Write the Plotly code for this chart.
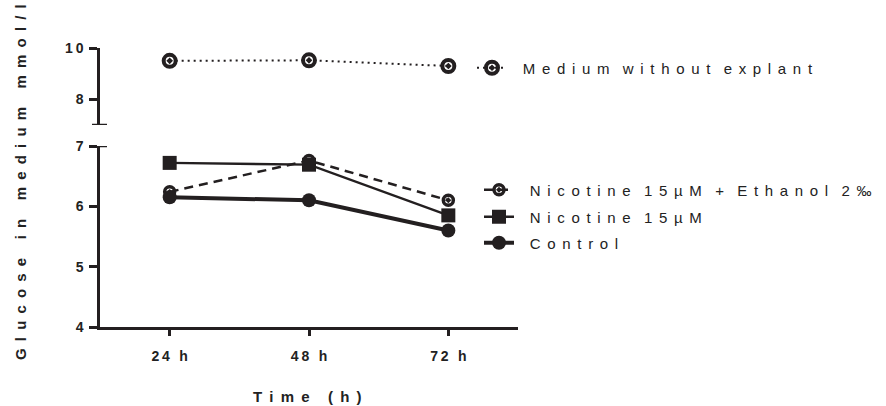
import plotly.graph_objects as go

# ---- data ----
times = ["24 h", "48 h", "72 h"]
medium = [9.50, 9.52, 9.30]
nic_eth = [6.24, 6.76, 6.10]
nicotine = [6.72, 6.69, 5.85]
control = [6.15, 6.10, 5.60]

names = {
    "medium": "Medium without explant",
    "nic_eth": "Nicotine 15µM + Ethanol 2‰",
    "nicotine": "Nicotine 15µM",
    "control": "Control",
}
lower_ticks = [4, 5, 6, 7]
upper_ticks = [8, 10]

INK = "#231f20"
TXT = "#222222"
FONT = "Arial, Liberation Sans, sans-serif"


def spaced(s, gap, word):
    words = s.split(" ")
    return word.join(gap.join(list(w)) for w in words)


LEG_GAP = "\u00a0\u2006"
LEG_WORD = "\u00a0\u2006\u00a0\u2006"
LEAD = "\u00a0\u00a0\u2006"
TICK_GAP = "\u2009"
TICK_WORD = "\u2009 \u2009"
TITLE_GAP = "\u00a0\u2009"
TITLE_WORD = TITLE_GAP + "\u00a0" + TITLE_GAP


def leg(s):
    return LEAD + spaced(s, LEG_GAP, LEG_WORD)


fig = go.Figure()

fig.add_trace(go.Scatter(
    x=times, y=medium, yaxis="y2", name=leg(names["medium"]), legend="legend4",
    mode="lines+markers",
    line=dict(color=INK, width=2, dash="2px,4px"),
    marker=dict(symbol="circle-open-dot", size=12, color=INK, line=dict(width=4, color=INK)),
))
fig.add_trace(go.Scatter(
    x=times, y=nic_eth, name=leg(names["nic_eth"]), legend="legend",
    mode="lines+markers",
    line=dict(color=INK, width=2.5, dash="9px,6px"),
    marker=dict(symbol="circle-open-dot", size=10, color=INK, line=dict(width=3.5, color=INK)),
))
fig.add_trace(go.Scatter(
    x=times, y=nicotine, name=leg(names["nicotine"]), legend="legend2",
    mode="lines+markers",
    line=dict(color=INK, width=2.3),
    marker=dict(symbol="square", size=14, color=INK),
))
fig.add_trace(go.Scatter(
    x=times, y=control, name=leg(names["control"]), legend="legend3",
    mode="lines+markers",
    line=dict(color=INK, width=4),
    marker=dict(symbol="circle", size=14, color=INK),
))

W, H = 886, 406
ML, MR, MT, MB = 100, 368, 48, 79
PH = H - MT - MB


def py(pix):
    return (H - MB - pix) / PH


def px(pix):
    return (pix - ML) / (W - ML - MR)


legend_font = dict(family=FONT, size=15, color=TXT)


def legend_at(xpix, ypix):
    return dict(x=px(xpix), y=py(ypix), xanchor="left", yanchor="middle",
                bgcolor="rgba(0,0,0,0)", borderwidth=0, font=legend_font,
                itemwidth=30, itemclick=False, itemdoubleclick=False)


tick_font = dict(family=FONT, size=14, color=TXT, weight="bold")

fig.update_layout(
    width=W, height=H,
    margin=dict(l=ML, r=MR, t=MT, b=MB, pad=0, autoexpand=False),
    paper_bgcolor="white", plot_bgcolor="white",
    showlegend=True,
    legend=legend_at(479, 190),
    legend2=legend_at(479, 217),
    legend3=legend_at(479, 243),
    legend4=legend_at(472, 68),
    xaxis=dict(
        type="category", range=[-0.5, 2.5], anchor="y",
        tickvals=times, ticktext=[spaced(t, TICK_GAP, TICK_WORD) for t in times],
        showline=True, linecolor=INK, linewidth=2.5,
        ticks="outside", ticklen=6, tickwidth=2.5, tickcolor=INK,
        tickfont=tick_font, ticklabelstandoff=8,
        showgrid=False, zeroline=False,
    ),
    yaxis=dict(
        domain=[0, py(146)], range=[4, 7], anchor="x",
        tickvals=lower_ticks, ticktext=[spaced(str(v), TICK_GAP, TICK_WORD) for v in lower_ticks],
        showline=True, linecolor=INK, linewidth=2.5,
        ticks="outside", ticklen=8, tickwidth=2.5, tickcolor=INK,
        tickfont=tick_font, ticklabelstandoff=3,
        showgrid=False, zeroline=False,
    ),
    yaxis2=dict(
        domain=[py(125), 1], range=[7, 10], anchor="x",
        tickvals=upper_ticks, ticktext=[spaced(str(v), TICK_GAP, TICK_WORD) for v in upper_ticks],
        showline=True, linecolor=INK, linewidth=2.5,
        ticks="outside", ticklen=8, tickwidth=2.5, tickcolor=INK,
        tickfont=tick_font, ticklabelstandoff=3,
        showgrid=False, zeroline=False,
    ),
    shapes=[
        dict(type="line", xref="paper", xsizemode="pixel", xanchor=0, x0=-8, x1=7,
             yref="y", y0=7, y1=7, line=dict(color=INK, width=2.5)),
        dict(type="line", xref="paper", xsizemode="pixel", xanchor=0, x0=-8, x1=7,
             yref="y2", y0=7, y1=7, line=dict(color=INK, width=2.5)),
    ],
    annotations=[
        dict(text=spaced("Glucose in medium mmol/l", TITLE_GAP, TITLE_WORD),
             xref="paper", yref="paper", x=px(20), y=py(182),
             xanchor="center", yanchor="middle", textangle=-90, showarrow=False,
             font=dict(family=FONT, size=15, color=TXT, weight="bold")),
        dict(text=spaced("Time (h)", TITLE_GAP, TITLE_WORD),
             xref="paper", yref="paper", x=px(307), y=py(396),
             xanchor="center", yanchor="middle", showarrow=False,
             font=dict(family=FONT, size=15, color=TXT, weight="bold")),
    ],
)

fig.write_html("out.html")
